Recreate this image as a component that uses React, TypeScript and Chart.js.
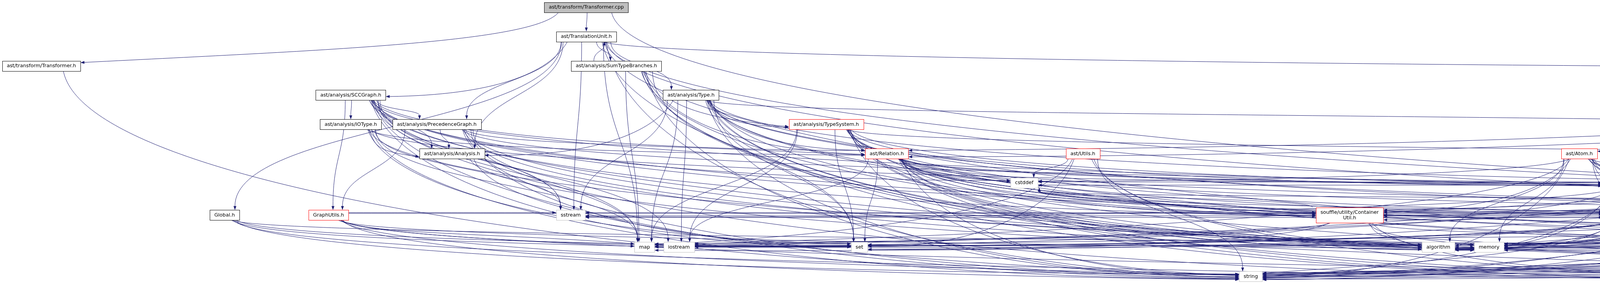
import { useEffect, useRef } from "react"
import { Chart, registerables } from "chart.js"
import type { Plugin } from "chart.js"

// Register Chart.js components
Chart.register(...registerables)

const WIDTH = 7983
const HEIGHT = 724
const FONT = "12.7px 'DejaVu Sans', sans-serif"
const EDGE = "#191970"

// vertical centre of each rank of the graph, px from the top
const rankY = [18.3, 93.3, 168.3, 243, 318, 393, 467.5, 550, 632, 707.2]

// nodes, in the same order in every array
const nodeIds = [
  "cpp", "tu", "tfh", "stb", "prog", "scc", "atype", "comp", "iot", "prec",
  "ts", "clause", "cinit", "ana", "rel", "utils", "atom", "eplan", "io", "asttype",
  "ctype", "cstddef", "qname", "nmap", "literal", "fdecl", "pragma", "global", "gutils", "sstream",
  "cutil", "sutil", "mutil", "node", "erep", "drep", "map", "iostream", "set", "algorithm",
  "memory", "cassert", "utility", "iosfwd", "stack", "srcloc", "sview", "string", "vector", "ostream",
]
const nodeLabels = [
  "ast/transform/Transformer.cpp", "ast/TranslationUnit.h", "ast/transform/Transformer.h",
  "ast/analysis/SumTypeBranches.h", "ast/Program.h", "ast/analysis/SCCGraph.h", "ast/analysis/Type.h",
  "ast/Component.h", "ast/analysis/IOType.h", "ast/analysis/PrecedenceGraph.h",
  "ast/analysis/TypeSystem.h", "ast/Clause.h", "ast/ComponentInit.h", "ast/analysis/Analysis.h",
  "ast/Relation.h", "ast/Utils.h", "ast/Atom.h", "ast/ExecutionPlan.h", "ast/IO.h", "ast/Type.h",
  "ast/ComponentType.h", "cstddef", "ast/QualifiedName.h", "ast/NodeMapper.h", "ast/Literal.h",
  "ast/FunctorDeclaration.h", "ast/Pragma.h", "Global.h", "GraphUtils.h", "sstream",
  "souffle/utility/Container\nUtil.h", "souffle/utility/StreamUtil.h", "souffle/utility/MiscUtil.h",
  "ast/Node.h", "reports/ErrorReport.h", "reports/DebugReport.h", "map", "iostream", "set", "algorithm",
  "memory", "cassert", "utility", "iosfwd", "stack", "parser/SrcLocation.h", "string_view", "string",
  "vector", "ostream",
]
const nodeX = [
  1501, 1501, 106, 1578, 5789, 898, 1769, 5063, 898, 1118,
  2115, 5063, 6600, 1157, 2270, 2772, 4043, 4861, 5867, 5985,
  6610, 2622, 4178, 4501, 5252, 6885, 7409, 575, 841, 1461,
  3455, 4198, 5669, 6245, 6546, 7746, 1650, 1738, 2200, 3682,
  3812, 5670, 5795, 6277, 6658, 6840, 7730, 3202, 4333, 6840,
]
const nodeRank = [
  0, 1, 2, 2, 2, 3, 3, 3, 4, 4,
  4, 4, 4, 5, 5, 5, 5, 5, 5, 5,
  5, 6, 6, 6, 6, 6, 6, 7, 7, 7,
  7, 7, 7, 7, 7, 7, 8, 8, 8, 8,
  8, 8, 8, 8, 8, 8, 8, 9, 9, 9,
]
// root = the documented file, cut = truncated (red), sys = system header
const nodeKind = [
  "root", "plain", "plain", "plain", "plain", "plain", "plain", "plain", "plain", "plain",
  "cut", "plain", "plain", "plain", "cut", "cut", "cut", "cut", "plain", "plain",
  "plain", "sys", "plain", "plain", "plain", "cut", "plain", "plain", "cut", "sys",
  "cut", "cut", "cut", "cut", "plain", "plain", "sys", "sys", "sys", "sys",
  "sys", "sys", "sys", "sys", "sys", "plain", "sys", "sys", "sys", "sys",
]

// include edges: file -> headers it includes
const includes: [string, string[]][] = [
  ["cpp", ["tfh", "tu", "drep"]],
  ["tu", ["global", "stb", "atype", "scc", "prec", "ana", "sstream", "prog", "erep", "drep", "map", "memory", "string", "utility"]],
  ["tfh", ["string"]],
  ["stb", ["tu", "ts", "rel", "cutil", "map", "set", "memory", "string", "vector"]],
  ["prog", ["comp", "clause", "cinit", "io", "asttype", "rel", "fdecl", "pragma", "node", "nmap", "qname", "cutil", "mutil", "sutil", "algorithm", "cassert", "map", "memory", "ostream", "set", "string", "utility", "vector"]],
  ["scc", ["iot", "prec", "ana", "gutils", "rel", "qname", "cutil", "sutil", "cstddef", "map", "memory", "ostream", "set", "stack", "string", "vector", "sstream", "iostream"]],
  ["atype", ["ts", "ana", "clause", "nmap", "rel", "qname", "cutil", "mutil", "sutil", "sstream", "map", "memory", "iostream", "ostream", "set", "string", "vector", "algorithm"]],
  ["comp", ["clause", "cinit", "ctype", "io", "rel", "asttype", "node", "nmap", "srcloc", "cutil", "mutil", "sutil", "algorithm", "memory", "ostream", "string", "utility", "vector"]],
  ["iot", ["ana", "rel", "qname", "ostream", "set", "string", "map", "sstream"]],
  ["prec", ["ana", "gutils", "rel", "qname", "ostream", "set", "string", "map", "sstream", "memory"]],
  ["ts", ["asttype", "qname", "cutil", "mutil", "sutil", "algorithm", "cassert", "cstddef", "iostream", "map", "memory", "set", "string", "vector", "utility"]],
  ["clause", ["eplan", "literal", "atom", "node", "nmap", "srcloc", "cutil", "mutil", "sutil", "algorithm", "memory", "ostream", "string", "utility", "vector"]],
  ["cinit", ["ctype", "node", "qname", "srcloc", "nmap", "cutil", "mutil", "sutil", "memory", "ostream", "string", "vector"]],
  ["ana", ["ostream", "string"]],
  ["rel", ["node", "qname", "nmap", "srcloc", "cutil", "mutil", "sutil", "algorithm", "cstddef", "iostream", "memory", "ostream", "set", "string", "utility", "vector"]],
  ["utils", ["cstddef", "set", "map", "memory", "string", "vector"]],
  ["atom", ["literal", "node", "qname", "nmap", "srcloc", "cutil", "mutil", "sutil", "algorithm", "cstddef", "iostream", "memory", "ostream", "string", "utility", "vector"]],
  ["eplan", ["node", "nmap", "srcloc", "cutil", "mutil", "sutil", "map", "memory", "ostream", "string", "utility", "vector"]],
  ["io", ["node", "qname", "nmap", "srcloc", "mutil", "sutil", "cassert", "map", "ostream", "string", "utility"]],
  ["asttype", ["node", "qname", "srcloc", "mutil", "utility", "string", "ostream", "cassert", "vector"]],
  ["ctype", ["node", "qname", "srcloc", "sutil", "algorithm", "ostream", "string", "vector"]],
  ["qname", ["sutil", "algorithm", "cstddef", "iostream", "ostream", "sstream", "string", "utility", "vector"]],
  ["nmap", ["node", "memory"]],
  ["literal", ["node"]],
  ["fdecl", ["node", "qname", "srcloc", "cutil", "sutil", "cassert", "cstddef", "memory", "ostream", "string", "utility", "vector"]],
  ["pragma", ["node", "srcloc", "ostream", "string", "utility"]],
  ["global", ["map", "string", "vector", "utility", "set"]],
  ["gutils", ["sutil", "map", "memory", "ostream", "set", "sstream", "string", "vector"]],
  ["cutil", ["algorithm", "memory", "map", "set", "utility", "vector", "cstddef"]],
  ["sutil", ["map", "memory", "ostream", "set", "string", "utility", "vector", "iostream", "sstream"]],
  ["mutil", ["cassert", "utility", "iostream", "memory", "string", "algorithm", "sstream"]],
  ["node", ["srcloc", "iosfwd", "memory", "string", "vector", "utility"]],
  ["erep", ["srcloc", "algorithm", "cstddef", "iostream", "set", "string", "vector", "ostream"]],
  ["drep", ["string", "sview", "sstream", "utility", "vector", "ostream"]],
  ["srcloc", ["ostream", "string", "cstddef", "iostream"]],
]

interface Box {
  cx: number
  cy: number
  w: number
  h: number
  rank: number
}

type Pt = [number, number]

const clamp = (v: number, lim: number) => Math.max(-lim, Math.min(lim, v))

function drawEdge(ctx: CanvasRenderingContext2D, s: Box, t: Box, k: number) {
  const jit = ((k * 5) % 7) - 3
  const lane = (((k * 7) % 9) - 4) * t.h * 0.08
  const spread = (((k * 3) % 11) - 8) * 4
  const dx = t.cx - s.cx
  const sign = dx >= 0 ? 1 : -1
  let p0: Pt, c1: Pt, c2: Pt, p3: Pt

  if (t.rank > s.rank) {
    const y0 = s.cy + s.h / 2
    const yTop = t.cy - t.h / 2
    const dy = yTop - y0
    if (Math.abs(dx) <= dy * 2.5 + (s.w + t.w) / 4) {
      const x0 = s.cx + clamp(dx * 0.3, s.w * 0.4) + jit
      const x3 = t.cx - clamp(dx * 0.2, t.w * 0.35)
      p0 = [x0, y0]
      p3 = [x3, yTop]
      c1 = [x0, y0 + dy * 0.5]
      c2 = [x3, yTop - dy * 0.5]
    } else {
      // long edge: leave the bottom, sweep across, enter the target from its side
      const x0 = s.cx + sign * s.w * 0.3 + jit * 2
      const y3 = t.cy + lane
      const x3 = t.cx - sign * t.w / 2
      p0 = [x0, y0]
      p3 = [x3, y3]
      c1 = [x0 + sign * Math.min(Math.abs(dx) * 0.08, 60), y0 + (y3 - y0) * 0.6]
      c2 = [x3 - sign * Math.abs(dx) * 0.45, Math.min(y3 + spread, HEIGHT - 4)]
    }
  } else if (t.rank === s.rank) {
    p0 = [s.cx + sign * s.w / 2, s.cy + lane]
    p3 = [t.cx - sign * t.w / 2, t.cy + lane]
    const d = Math.abs(p3[0] - p0[0]) * 0.4
    c1 = [p0[0] + sign * d, p0[1]]
    c2 = [p3[0] - sign * d, p3[1]]
  } else {
    // edge back up the graph
    const y0 = s.cy - s.h / 2
    const yBot = t.cy + t.h / 2
    const dy = y0 - yBot
    const x0 = s.cx + clamp(dx * 0.3, s.w * 0.4) - s.w * 0.15
    const x3 = t.cx - clamp(dx * 0.2, t.w * 0.35) + t.w * 0.2
    p0 = [x0, y0]
    p3 = [x3, yBot]
    c1 = [x0, y0 - dy * 0.5]
    c2 = [x3, yBot + dy * 0.5]
  }

  const ang = Math.atan2(p3[1] - c2[1], p3[0] - c2[0])
  const len = 10
  const bx = p3[0] - len * Math.cos(ang)
  const by = p3[1] - len * Math.sin(ang)

  ctx.beginPath()
  ctx.moveTo(p0[0], p0[1])
  ctx.bezierCurveTo(c1[0], c1[1], c2[0], c2[1], bx, by)
  ctx.stroke()

  const px = -Math.sin(ang) * 3.6
  const py = Math.cos(ang) * 3.6
  ctx.beginPath()
  ctx.moveTo(p3[0], p3[1])
  ctx.lineTo(bx + px, by + py)
  ctx.lineTo(bx - px, by - py)
  ctx.closePath()
  ctx.fill()
}

const includeGraph: Plugin<"scatter"> = {
  id: "includeGraph",
  afterDatasetsDraw(chart) {
    const { ctx } = chart
    const xs = chart.scales.x
    const ys = chart.scales.y
    ctx.save()
    ctx.font = FONT

    const boxes = new Map<string, Box>()
    nodeIds.forEach((id, i) => {
      const lines = nodeLabels[i].split("\n")
      const tw = Math.max(...lines.map((l) => ctx.measureText(l).width))
      boxes.set(id, {
        cx: xs.getPixelForValue(nodeX[i]),
        cy: ys.getPixelForValue(rankY[nodeRank[i]]),
        w: tw + 23,
        h: lines.length > 1 ? 39 : 25.5,
        rank: nodeRank[i],
      })
    })

    // edges first, nodes are painted over them
    ctx.strokeStyle = EDGE
    ctx.fillStyle = EDGE
    ctx.lineWidth = 1
    let k = 0
    includes.forEach(([from, targets]) => {
      const s = boxes.get(from)
      if (!s) return
      targets.forEach((to) => {
        const t = boxes.get(to)
        if (t) drawEdge(ctx, s, t, k)
        k++
      })
    })

    nodeIds.forEach((id, i) => {
      const b = boxes.get(id)!
      const kind = nodeKind[i]
      const x = Math.round(b.cx - b.w / 2) + 0.5
      const y = Math.round(b.cy - b.h / 2) + 0.5
      const w = Math.round(b.w)
      const h = Math.round(b.h)
      ctx.fillStyle = kind === "root" ? "#bfbfbf" : "#ffffff"
      ctx.fillRect(x, y, w, h)
      ctx.strokeStyle = kind === "cut" ? "#ff0000" : kind === "sys" ? "#bfbfbf" : "#000000"
      ctx.lineWidth = 1
      ctx.strokeRect(x, y, w, h)

      ctx.fillStyle = "#000000"
      ctx.textAlign = "center"
      ctx.textBaseline = "middle"
      const lines = nodeLabels[i].split("\n")
      lines.forEach((line, j) => {
        const ly = b.cy + (j - (lines.length - 1) / 2) * 14 + 0.5
        ctx.fillText(line, b.cx, ly)
      })
    })
    ctx.restore()
  },
}

export default function App() {
  const chartRef = useRef<HTMLCanvasElement>(null)
  const chartInstance = useRef<Chart | null>(null)

  useEffect(() => {
    document.body.style.margin = "0"
    if (!chartRef.current) return

    if (chartInstance.current) {
      chartInstance.current.destroy()
    }

    const ctx = chartRef.current.getContext("2d")
    if (!ctx) return

    chartInstance.current = new Chart(ctx, {
      type: "scatter",
      data: {
        datasets: [
          {
            label: "files",
            data: nodeIds.map((_, i) => ({ x: nodeX[i], y: rankY[nodeRank[i]] })),
            pointRadius: 0,
            pointHoverRadius: 0,
          },
        ],
      },
      options: {
        responsive: false,
        animation: false,
        devicePixelRatio: 1,
        events: [],
        layout: { padding: 0 },
        plugins: {
          legend: { display: false },
          tooltip: { enabled: false },
        },
        scales: {
          x: { type: "linear", min: 0, max: WIDTH, display: false },
          y: { type: "linear", min: 0, max: HEIGHT, reverse: true, display: false },
        },
      },
      plugins: [includeGraph],
    })

    return () => {
      if (chartInstance.current) {
        chartInstance.current.destroy()
        chartInstance.current = null
      }
    }
  }, [])

  return (
    <div style={{ width: WIDTH, height: HEIGHT, background: "#ffffff" }}>
      <canvas
        ref={chartRef}
        width={WIDTH}
        height={HEIGHT}
        style={{ display: "block" }}
        aria-label="Include dependency graph for Transformer.cpp"
      ></canvas>
    </div>
  )
}
